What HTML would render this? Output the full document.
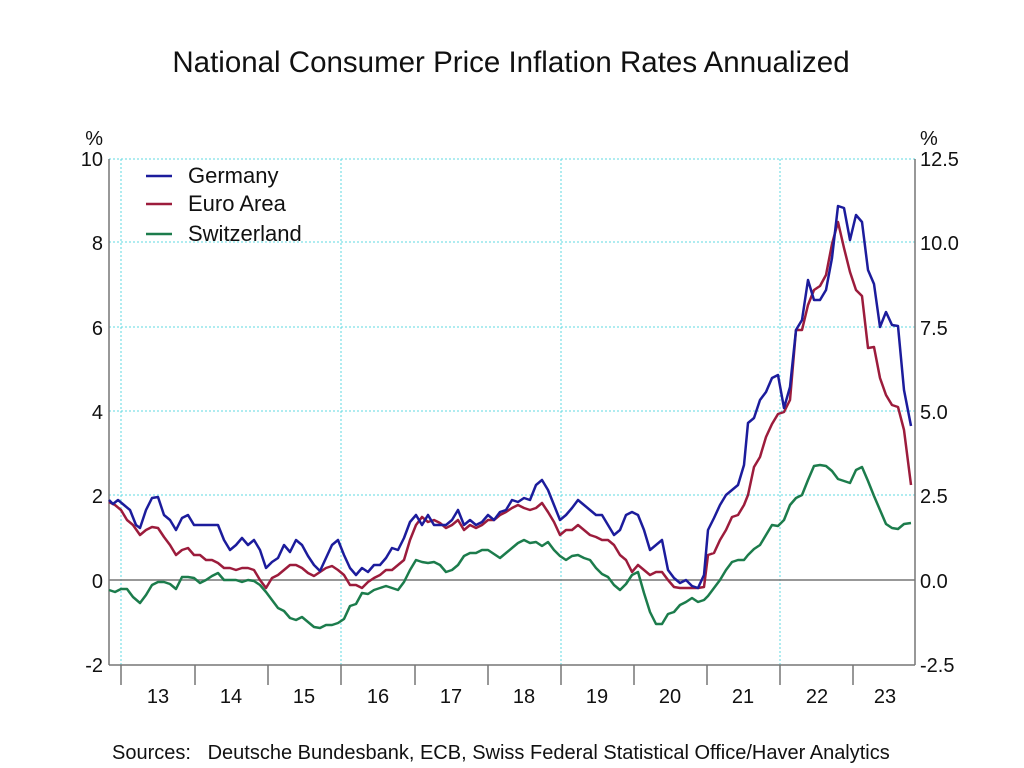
<!DOCTYPE html>
<html><head><meta charset="utf-8"><style>
body{margin:0;background:#fff;}
svg{display:block;font-family:"Liberation Sans",sans-serif;}
</style></head><body>
<svg width="1024" height="768" xmlns="http://www.w3.org/2000/svg">
<rect width="1024" height="768" fill="#fff"/>
<text x="511" y="72" font-size="29.5" text-anchor="middle" fill="#111">National Consumer Price Inflation Rates Annualized</text>
<g stroke="#5fd8e0" stroke-width="1" stroke-dasharray="2,2" fill="none">
<line x1="109" y1="159" x2="915" y2="159"/>
<line x1="109" y1="242" x2="915" y2="242"/>
<line x1="109" y1="327" x2="915" y2="327"/>
<line x1="109" y1="411" x2="915" y2="411"/>
<line x1="109" y1="495" x2="915" y2="495"/>
<line x1="121" y1="159" x2="121" y2="665"/>
<line x1="341" y1="159" x2="341" y2="665"/>
<line x1="561" y1="159" x2="561" y2="665"/>
<line x1="780" y1="159" x2="780" y2="665"/>
</g>
<g stroke="#777" stroke-width="1.5" fill="none">
<line x1="109" y1="159" x2="109" y2="665"/>
<line x1="915" y1="159" x2="915" y2="665"/>
<line x1="109" y1="665" x2="915" y2="665"/>
<line x1="109" y1="580" x2="915" y2="580"/>
<path d="M121 665v20M195 665v20M268 665v20M341 665v20M415 665v20M488 665v20M561 665v20M634 665v20M707 665v20M780 665v20M853 665v20"/>
</g>
<g font-size="20" fill="#111" text-anchor="end">
<text x="103" y="145">%</text>
<text x="103" y="166">10</text>
<text x="103" y="250">8</text>
<text x="103" y="335">6</text>
<text x="103" y="419">4</text>
<text x="103" y="503">2</text>
<text x="103" y="588">0</text>
<text x="103" y="672">-2</text>
</g>
<g font-size="20" fill="#111">
<text x="920" y="145">%</text>
<text x="920" y="166">12.5</text>
<text x="920" y="250">10.0</text>
<text x="920" y="335">7.5</text>
<text x="920" y="419">5.0</text>
<text x="920" y="503">2.5</text>
<text x="920" y="588">0.0</text>
<text x="920" y="672">-2.5</text>
</g>
<g font-size="20" fill="#111" text-anchor="middle">
<text x="158" y="703">13</text><text x="231" y="703">14</text><text x="304" y="703">15</text><text x="378" y="703">16</text><text x="451" y="703">17</text><text x="524" y="703">18</text><text x="597" y="703">19</text><text x="670" y="703">20</text><text x="743" y="703">21</text><text x="817" y="703">22</text><text x="885" y="703">23</text>
</g>
<g stroke-width="2.5" fill="none" stroke-linejoin="round">
<line x1="146" y1="176" x2="172" y2="176" stroke="#1c1c9c"/>
<line x1="146" y1="204" x2="172" y2="204" stroke="#9c1c3c"/>
<line x1="146" y1="234" x2="172" y2="234" stroke="#1c7c4c"/>
<polyline stroke="#1c7c4c" points="109,590 115,592 121,589 127,589 133,597 140,603 146,595 152,585 158,582 164,582 170,584 176,589 182,577 188,577 194,578 200,583 206,580 212,576 218,573 224,580 230,580 236,580 242,582 248,580 254,581 260,585 266,592 272,600 278,608 284,611 290,618 296,620 302,617 308,622 314,627 320,628 326,625 332,625 338,623 344,619 350,606 356,604 362,593 368,594 374,590 380,588 386,586 392,588 398,590 404,582 410,570 416,560 422,562 428,563 434,562 440,565 446,572 452,570 458,565 464,556 470,553 476,553 482,550 488,550 494,554 500,558 506,553 512,548 518,543 524,540 530,543 536,542 542,546 548,542 554,550 560,556 566,560 572,556 578,555 584,558 590,560 596,568 602,574 608,577 614,585 620,590 626,584 632,575 638,572 644,593 650,612 656,624 662,624 668,614 674,612 680,605 686,602 692,598 698,602 704,600 708,596 714,588 720,580 726,570 732,562 738,560 744,560 748,555 754,549 760,545 766,535 772,525 778,526 784,520 790,505 796,498 802,495 808,480 814,466 820,465 826,466 832,471 838,479 844,481 850,483 856,470 862,467 868,481 874,496 880,510 886,524 892,528 898,529 904,524 911,523"/>
<polyline stroke="#9c1c3c" points="109,502 115,505 121,510 127,520 133,525 140,535 146,530 152,527 158,528 164,537 170,545 176,555 182,550 188,548 194,555 200,555 206,560 212,560 218,563 224,568 230,568 236,570 242,568 248,568 254,570 260,580 266,588 272,578 278,575 284,570 290,565 296,565 302,568 308,573 314,576 320,572 326,568 332,566 338,570 344,575 350,585 356,585 362,588 368,582 374,578 380,575 386,570 392,570 398,565 404,560 410,540 416,525 422,517 428,522 434,520 440,523 446,528 452,525 458,520 464,530 470,525 476,528 482,525 488,520 494,520 500,515 506,512 512,508 518,505 524,508 530,510 536,508 542,503 548,512 554,522 560,535 566,530 572,530 578,525 584,530 590,535 596,537 602,540 608,540 614,545 620,555 626,560 632,572 638,565 644,570 650,575 656,572 662,572 668,580 674,587 680,588 686,588 692,588 698,588 704,587 708,555 714,553 720,540 726,530 732,517 738,515 744,505 748,495 754,467 760,457 766,437 772,424 778,414 784,412 790,400 796,330 802,330 808,305 814,290 820,286 826,275 832,244 838,222 844,248 850,272 856,290 862,296 868,348 874,347 880,378 886,395 892,405 898,407 904,430 911,485"/>
<polyline stroke="#1c1c9c" points="109,500 113,504 118,500 124,505 130,510 136,525 140,528 146,510 152,498 158,497 164,515 170,520 176,530 182,518 188,515 194,525 200,525 206,525 212,525 218,525 224,540 230,550 236,545 242,538 248,545 254,540 260,550 266,568 272,562 278,558 284,545 290,552 296,540 302,545 308,556 314,565 320,571 326,558 332,545 338,540 344,555 350,568 356,575 362,568 368,572 374,565 380,565 386,558 392,548 398,550 404,538 410,522 416,515 422,525 428,515 434,525 440,525 446,525 452,520 458,510 464,525 470,520 476,525 482,522 488,515 494,520 500,512 506,510 512,500 518,502 524,498 530,500 536,485 542,480 548,490 554,505 560,520 566,515 572,508 578,500 584,505 590,510 596,515 602,515 608,525 614,535 620,530 626,515 632,512 638,515 644,530 650,550 656,545 662,540 668,570 674,578 680,583 686,580 692,586 698,588 704,575 708,530 714,518 720,505 726,495 732,490 738,485 744,465 748,423 754,418 760,400 766,392 772,378 778,375 784,408 790,387 796,330 802,320 808,280 814,300 820,300 826,290 832,258 838,206 844,208 850,240 856,215 862,222 868,270 874,284 880,327 886,312 892,325 898,326 904,390 911,426"/>
</g>
<g font-size="22" fill="#111">
<text x="188" y="183">Germany</text>
<text x="188" y="211">Euro Area</text>
<text x="188" y="241">Switzerland</text>
</g>
<text x="112" y="759" font-size="20" fill="#111" xml:space="preserve">Sources:   Deutsche Bundesbank, ECB, Swiss Federal Statistical Office/Haver Analytics</text>
</svg>
</body></html>
